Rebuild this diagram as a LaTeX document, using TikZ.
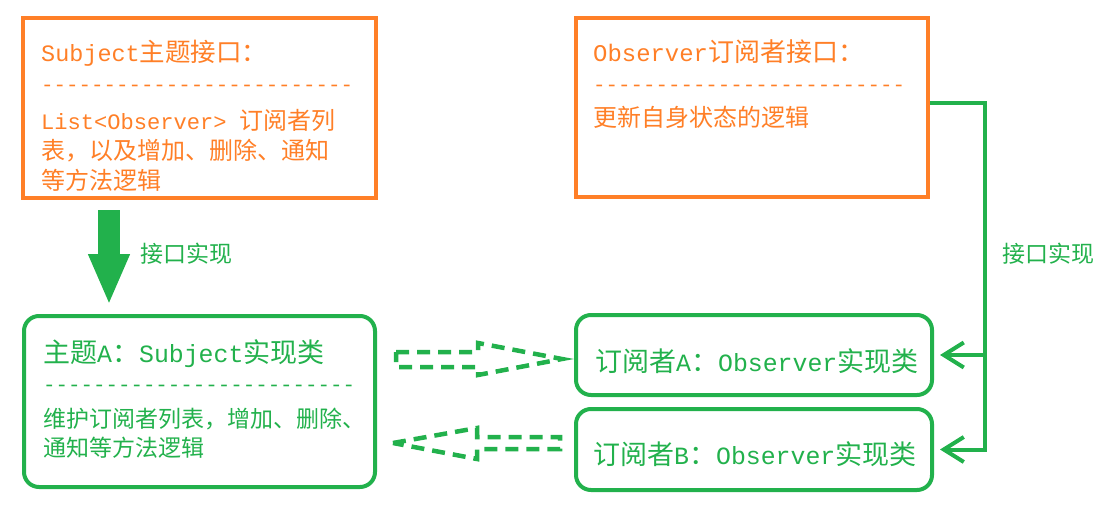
\documentclass[tikz,border=0pt]{standalone}
\usepackage{fontspec}
\setmonofont{Liberation Mono}[Scale=0.92]
\newfontfamily\cjk{Noto Sans CJK SC}
\usetikzlibrary{arrows.meta,calc}
\definecolor{orng}{HTML}{FF7F27}
\definecolor{grn}{HTML}{22B14C}
\begin{document}
\begin{tikzpicture}[x=1pt,y=-1pt,
  obox/.style={draw=orng,line width=4pt,inner sep=0pt},
  gbox/.style={draw=grn,line width=4pt,rounded corners=15pt,inner sep=0pt},
  otxt/.style={text=orng,anchor=base west,inner sep=0pt},
  gtxt/.style={text=grn,anchor=base west,inner sep=0pt},
  fs/.style={font=\ttfamily\fontsize{#1}{#1}\selectfont},
  conn/.style={draw=grn,line width=4pt},
  barb/.style={-{Straight Barb[length=20pt,width=25pt]}},
  dasharr/.style={draw=grn,line width=4.5pt,dash pattern=on 13pt off 8pt}]
\useasboundingbox (0,0) rectangle (1115,511);
% boxes
\node[obox,minimum width=353pt,minimum height=180pt] (sub) at (199.5,108) {};
\node[obox,minimum width=352pt,minimum height=179pt] (obs) at (752,107.5) {};
\node[gbox,minimum width=351pt,minimum height=171pt] (sA) at (199.5,401.5) {};
\node[gbox,minimum width=356pt,minimum height=80pt] (oA) at (754,355) {};
\node[gbox,minimum width=356pt,minimum height=81pt] (oB) at (754,449.5) {};
% texts: Subject interface
\node[otxt,fs=25.5] (subT) at (41,61) {Subject{\cjk 主题接口：}};
\node[otxt,fs=22.6] (subD) at (41,91) {-------------------------};
\node[otxt,fs=24] (subL1) at (41,129) {List<Observer> {\cjk 订阅者列}};
\node[otxt,fs=24] (subL2) at (41,159) {\cjk 表，以及增加、删除、通知};
\node[otxt,fs=24] (subL3) at (41,189) {\cjk 等方法逻辑};
% Observer interface
\node[otxt,fs=26] (obsT) at (593,61) {Observer{\cjk 订阅者接口：}};
\node[otxt,fs=22.6] (obsD) at (593,91) {-------------------------};
\node[otxt,fs=24] (obsL1) at (593,126) {\cjk 更新自身状态的逻辑};
% Subject A
\node[gtxt,fs=27] (sAT) at (43,362) {{\cjk 主题}A{\cjk ：}Subject{\cjk 实现类}};
\node[gtxt,fs=22.6] (sAD) at (43,391) {-------------------------};
\node[gtxt,fs=23] (sAL1) at (43,427) {\cjk 维护订阅者列表，增加、删除、};
\node[gtxt,fs=23] (sAL2) at (43,456) {\cjk 通知等方法逻辑};
% Observers
\node[gtxt,fs=27] (oAT) at (595,371) {{\cjk 订阅者}A{\cjk ：}Observer{\cjk 实现类}};
\node[gtxt,fs=27] (oBT) at (593,464) {{\cjk 订阅者}B{\cjk ：}Observer{\cjk 实现类}};
% labels
\node[gtxt,fs=23] (lab1) at (140,262) {\cjk 接口实现};
\node[gtxt,fs=23] (lab2) at (1002,262) {\cjk 接口实现};
% big solid arrow
\coordinate (bigS) at ($(sub.south)+(-90.5,10)$);
\coordinate (bigE) at ($(sA.north)+(-90.5,-9)$);
\draw[grn,line width=22pt,-{Triangle[length=51pt,width=38pt]}] (bigS) -- (bigE);
% right connector
\coordinate (jn) at (985,103);
\draw[conn] (obs.east |- jn) -- (jn) -- (jn |- oA.east);
\draw[conn,barb,shorten >=6pt] (jn |- oA.east) |- (oB.east);
\draw[conn,barb,shorten >=6pt] (jn |- oA.east) -- (oA.east);
% dashed block arrows
\draw[dasharr] (396,352) -- (478,352) -- (478,343) -- (562,359) -- (478,375) -- (478,367) -- (396,367) -- cycle;
\draw[dasharr] (393,443) -- (477,428) -- (477,437) -- (560,437) -- (560,449) -- (477,449) -- (477,459) -- cycle;
\end{tikzpicture}
\end{document}
